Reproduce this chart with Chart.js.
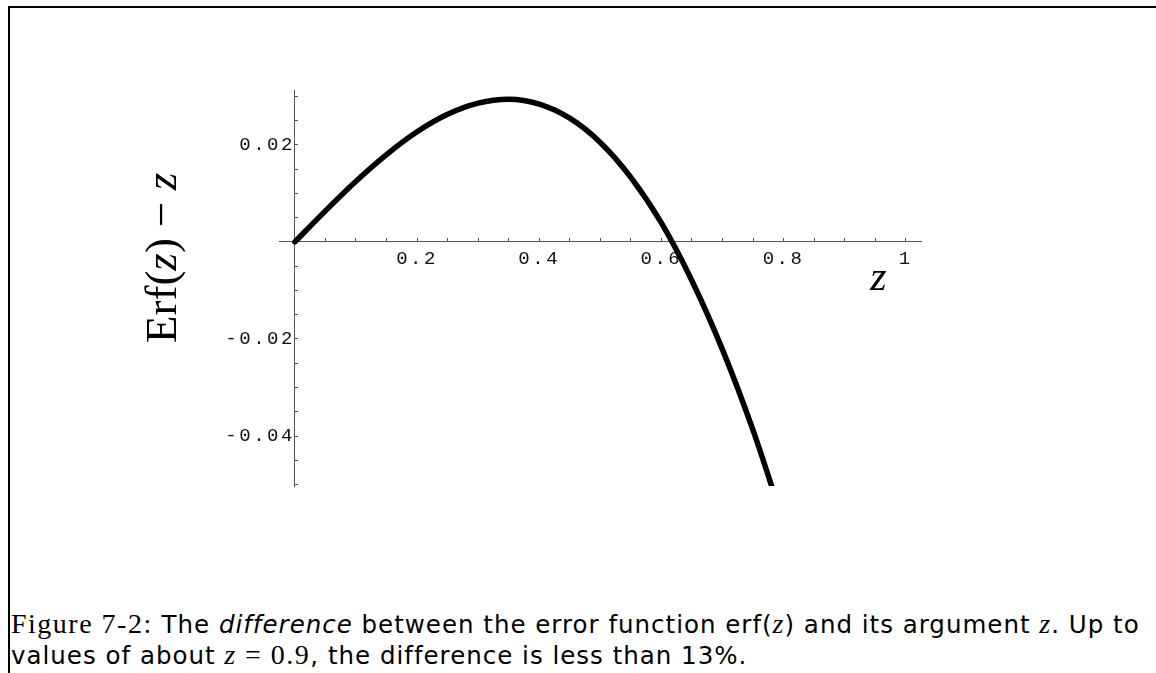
<!DOCTYPE html>
<html>
<head>
<meta charset="utf-8">
<script src="https://cdn.jsdelivr.net/npm/chart.js@4.4.1/dist/chart.umd.min.js"></script>
<style>
  html, body { margin: 0; padding: 0; background: #fff; }
  body { width: 1156px; height: 673px; position: relative; overflow: hidden; }
  #frame { position: absolute; left: 8px; top: 6px; right: 0; bottom: 0;
           border-top: 2px solid #000; border-left: 2px solid #000; }
  #plot { position: absolute; left: 0; top: 0; width: 1156px; height: 560px; }
  #caption { position: absolute; left: 11px; top: 609px; white-space: nowrap;
             font-family: "DejaVu Sans", sans-serif; font-size: 24.5px; letter-spacing: 1px;
             line-height: 30px; color: #000; }
  .rm { font-family: "Liberation Serif", serif; font-size: 28px; letter-spacing: 1.5px; }
  .mi { font-family: "Liberation Serif", serif; font-style: italic; font-size: 28px; }
</style>
</head>
<body>
<div id="frame"></div>
<div id="plot"><canvas id="erfChart"></canvas></div>
<div id="caption"><span class="rm">Figure 7-2:</span> The <i>difference</i> between the error function erf(<span class="mi">z</span>) and its argument <span class="mi">z</span>. Up to<br>values of about <span class="mi">z</span> <span class="rm">= 0.9</span>, the difference is less than 13%.</div>
<script>
// sampled curve: Erf(z) - z
const zValues = [0, 0.05, 0.1, 0.15, 0.2, 0.25, 0.3, 0.35, 0.4, 0.45, 0.5, 0.55, 0.6, 0.65, 0.7, 0.75, 0.8];
const diffValues = [0, 0.0064, 0.0125, 0.0180, 0.0227, 0.0263, 0.0286, 0.0294, 0.0284, 0.0255,
                    0.0205, 0.0133, 0.0039, -0.0080, -0.0222, -0.0388, -0.0579];

// labelled ticks
const xTickLabels = [0.2, 0.4, 0.6, 0.8, 1];
const yTickLabels = [0.02, -0.02, -0.04];

// plot range
const xRange = [-0.026, 1.025];
const yRange = [-0.0503, 0.0313];

const isLabelled = (list, v) => list.some(t => Math.abs(t - v) < 1e-9);

// Courier-style spaced tick text
const tickSpacing = {
  id: 'tickSpacing',
  beforeLayout(chart) { chart.ctx.letterSpacing = '2.5px'; },
  beforeDraw(chart) { chart.ctx.letterSpacing = '2.5px'; }
};

// rotated y title and the z under the x axis
const axisTitles = {
  id: 'axisTitles',
  afterDraw(chart) {
    const { ctx, scales: { x, y } } = chart;
    ctx.save();
    ctx.letterSpacing = '0px';
    ctx.fillStyle = '#000';
    ctx.textBaseline = 'alphabetic';
    ctx.textAlign = 'left';

    ctx.font = 'italic 42px "Liberation Serif"';
    ctx.fillText('z', x.getPixelForValue(0.942), y.getPixelForValue(-0.0099));

    const parts = [['Erf(', ''], ['z', 'italic '], [')', ''], [' \u2212 ', ''], ['z', 'italic ']];
    const size = '45px "Liberation Serif"';
    let total = 0;
    parts.forEach(p => { ctx.font = p[1] + size; total += ctx.measureText(p[0]).width; });
    ctx.translate(x.getPixelForValue(-0.195), y.getPixelForValue(-0.0033) + total / 2);
    ctx.rotate(-Math.PI / 2);
    let pos = 0;
    parts.forEach(p => {
      ctx.font = p[1] + size;
      ctx.fillText(p[0], pos, 0);
      pos += ctx.measureText(p[0]).width;
    });
    ctx.restore();
  }
};

const tickFont = { family: '"Liberation Mono", monospace', size: 19 };

const config = {
  type: 'line',
  data: {
    datasets: [{
      data: zValues.map((z, i) => ({ x: z, y: diffValues[i] })),
      borderColor: '#000',
      borderWidth: 5.5,
      borderCapStyle: 'round',
      borderJoinStyle: 'round',
      pointRadius: 0,
      cubicInterpolationMode: 'monotone',
      fill: false,
      clip: 0
    }]
  },
  options: {
    responsive: true,
    maintainAspectRatio: false,
    animation: false,
    layout: { padding: { left: 279, right: 235, top: 90, bottom: 74 } },
    scales: {
      x: {
        type: 'linear',
        min: xRange[0],
        max: xRange[1],
        position: { y: 0 },
        afterFit: (scale) => { scale.height = 0; },
        border: { color: '#555', width: 1 },
        grid: { drawOnChartArea: false, tickLength: -4, tickColor: '#555', tickWidth: 1 },
        ticks: {
          stepSize: 0.05,
          includeBounds: false,
          autoSkip: false,
          maxRotation: 0,
          padding: 10,
          color: '#111',
          font: tickFont,
          callback: (v) => isLabelled(xTickLabels, v) ? String(Number(v.toFixed(2))) : ''
        }
      },
      y: {
        type: 'linear',
        min: yRange[0],
        max: yRange[1],
        position: { x: 0 },
        afterFit: (scale) => { scale.width = 0; },
        border: { color: '#555', width: 1 },
        grid: { drawOnChartArea: false, tickLength: -4, tickColor: '#555', tickWidth: 1 },
        ticks: {
          stepSize: 0.005,
          includeBounds: false,
          autoSkip: false,
          padding: 7,
          color: '#111',
          font: tickFont,
          callback: (v) => isLabelled(yTickLabels, v) ? v.toFixed(2) : ''
        }
      }
    },
    plugins: {
      legend: { display: false },
      tooltip: { enabled: false }
    }
  },
  plugins: [tickSpacing, axisTitles]
};

new Chart(document.getElementById('erfChart'), config);
</script>
</body>
</html>
